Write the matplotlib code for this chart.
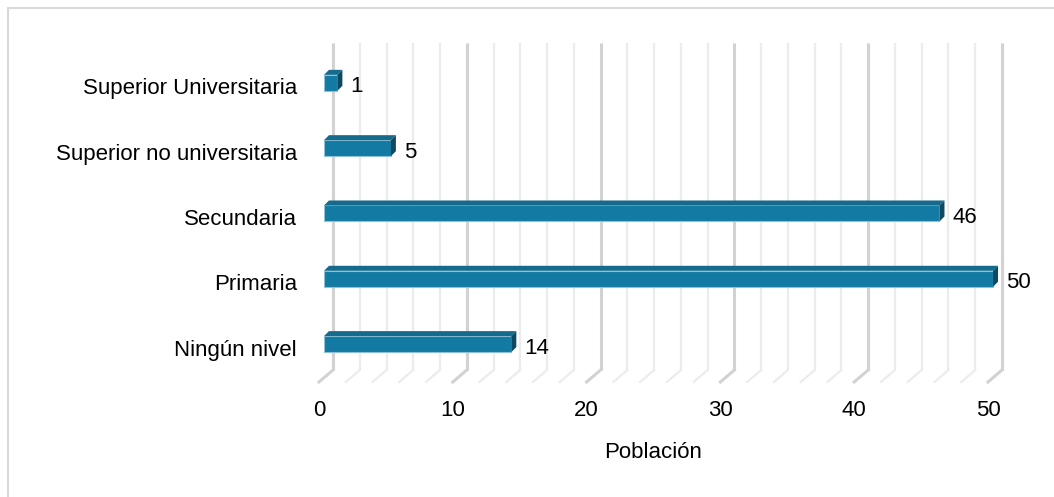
import matplotlib
matplotlib.use("Agg")
import matplotlib.pyplot as plt
import matplotlib.patches as mpatches

plt.rcParams['font.family'] = ['Liberation Sans', 'DejaVu Sans']

categorias = ["Ningún nivel", "Primaria", "Secundaria",
              "Superior no universitaria", "Superior Universitaria"]
poblacion = [14, 50, 46, 5, 1]
ticks_x = [0, 10, 20, 30, 40, 50]
titulo_x = "Población"

W, H = 1054, 497
FS = 16
fig = plt.figure(figsize=(W / 100, H / 100), dpi=100)

# marco gris del area del grafico
fig.patches.append(mpatches.Rectangle((8 / W, -0.1), 1.2, 1 - 8 / H + 0.1,
                                      transform=fig.transFigure, fill=False,
                                      edgecolor='#d9d9d9', linewidth=1.5))

px_unit = 13.38          # pixeles por unidad del eje x
ax_left, ax_w = 324, 51.5 * px_unit
y_lo, y_hi = -0.58, 4.61
ax_top, ax_bot = 43, 382
ax = fig.add_axes([ax_left / W, 1 - ax_bot / H, ax_w / W, (ax_bot - ax_top) / H])
ax.set_xlim(0, 51.5)
ax.set_ylim(y_lo, y_hi)
ax.axis('off')

py_unit = (ax_bot - ax_top) / (y_hi - y_lo)
dx = 5 / px_unit          # profundidad de la barra
dy = 5 / py_unit
gx = 9 / px_unit          # desplazamiento de la pared del fondo
y_back_bot = y_lo + 12 / py_unit

# rejilla tipo 3D
for v in range(0, 51, 2):
    mayor = v % 10 == 0
    col = '#d2d2d2' if mayor else '#ececec'
    lw = 2.2 if mayor else 1.6
    ax.plot([v + gx, v + gx], [y_back_bot, y_hi], color=col, lw=lw,
            zorder=0, clip_on=False, solid_capstyle='butt')
    ax.plot([v + gx, v + gx - 14 / px_unit], [y_back_bot, y_lo], color=col,
            lw=lw, zorder=0, clip_on=False)

alto = 16 / py_unit
pos = list(range(len(categorias)))
bars = ax.barh(pos, poblacion, height=alto, color='#127aa3',
               edgecolor='#8fc1d6', linewidth=0.8, zorder=3)

for b in bars:
    x0, y0 = b.get_x(), b.get_y()
    w, h = b.get_width(), b.get_height()
    top = mpatches.Polygon([(x0, y0 + h), (x0 + dx, y0 + h + dy),
                            (x0 + w + dx, y0 + h + dy), (x0 + w, y0 + h)],
                           closed=True, facecolor='#166b8c', edgecolor='none', zorder=3)
    side = mpatches.Polygon([(x0 + w, y0), (x0 + w + dx, y0 + dy),
                             (x0 + w + dx, y0 + h + dy), (x0 + w, y0 + h)],
                            closed=True, facecolor='#0d4a62', edgecolor='none', zorder=3)
    ax.add_patch(top)
    ax.add_patch(side)

for p, v in zip(pos, poblacion):
    ax.text(v + 13 / px_unit, p - 4 / py_unit, str(v), ha='left', va='center',
            fontsize=FS, color='#000000', zorder=4)

# etiquetas de categorias
for p, c in zip(pos, categorias):
    ax.text(-27 / px_unit, p - 6 / py_unit, c, ha='right', va='center',
            fontsize=FS, color='#000000', clip_on=False)

# etiquetas del eje x
for t in ticks_x:
    ax.text(t - 5 / px_unit, y_lo - 28 / py_unit, str(t), ha='center',
            va='center', fontsize=FS, color='#000000', clip_on=False)

ax.text((ticks_x[0] + ticks_x[-1]) / 2 - 5 / px_unit, y_lo - 71 / py_unit,
        titulo_x, ha='center', va='center', fontsize=FS, color='#000000',
        clip_on=False)

fig.savefig("out.png", dpi=100)
